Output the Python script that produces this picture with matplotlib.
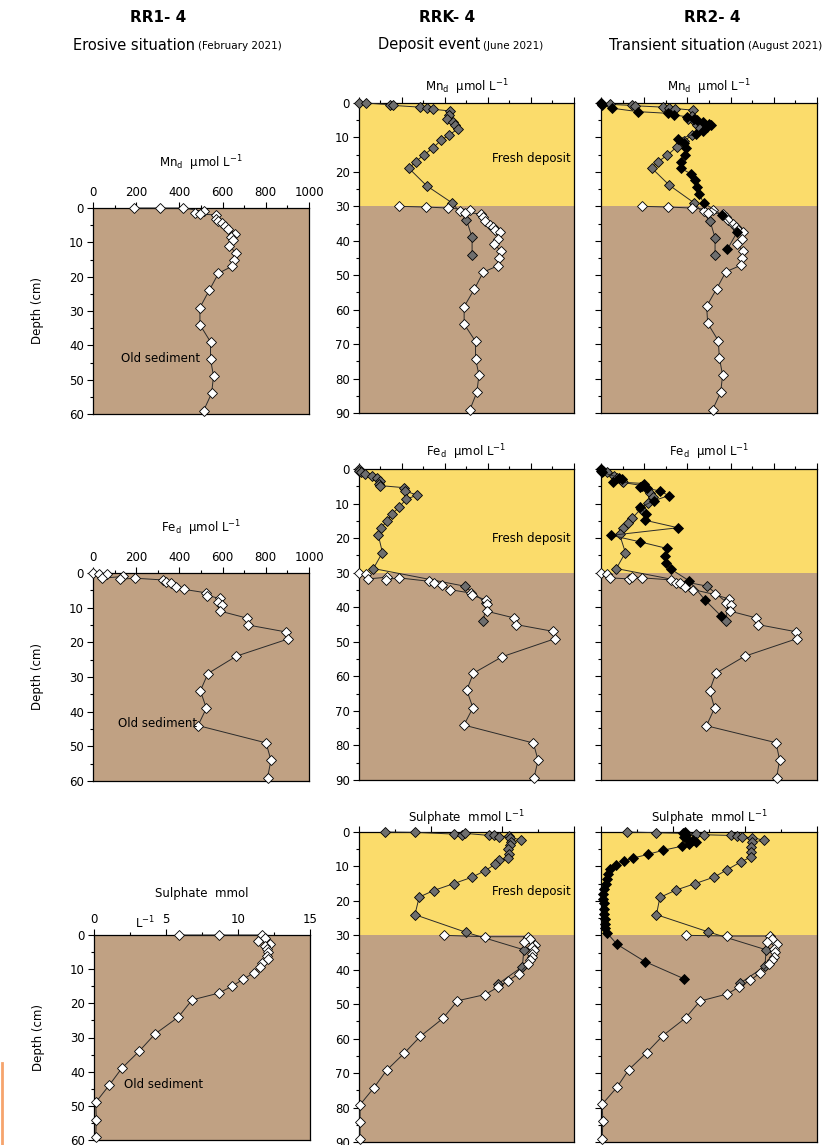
import numpy as np
import matplotlib
matplotlib.use("Agg")
import matplotlib.pyplot as plt
from matplotlib.lines import Line2D

# ---------------- data (depth in cm, concentrations) ----------------
# RR1-4 (erosive, old sediment only)
rr1_mn_depth = [0, 0, 0, 1.0, 1.5, 1.8, 2.0, 3.2, 3.9, 4.5, 5.3, 6.1, 7.5, 8.5, 9.3, 11, 13, 15, 17, 19, 24, 29, 34, 39, 44, 49, 54, 59]
rr1_mn = [188, 310, 415, 516, 473, 496, 570, 570, 581, 597, 609, 625, 659, 637, 650, 628, 662, 653, 643, 581, 538, 495, 495, 544, 544, 558, 549, 512]

rr1_fe_depth = [0, 0.2, 0.3, 1.5, 1.0, 1.8, 1.5, 2.0, 2.5, 3.0, 4.0, 4.7, 5.7, 6.5, 7.3, 8.3, 9.3, 11, 13, 15, 17, 19, 24, 29, 34, 39, 44, 49, 54, 59]
rr1_fe = [0, 30, 65, 40, 140, 125, 195, 322, 340, 363, 383, 420, 521, 528, 586, 578, 598, 589, 712, 718, 893, 905, 663, 532, 497, 525, 486, 801, 824, 808]

rr1_so4_depth = [0, 0, 0, 0.8, 1.7, 2.5, 3.3, 4.0, 5.0, 6.0, 7.0, 8.1, 9.5, 11, 13, 15, 17, 19, 24, 29, 34, 39, 44, 49, 54, 59]
rr1_so4 = [5.9, 8.7, 11.7, 11.9, 11.4, 12.2, 11.9, 12.0, 12.1, 12.0, 12.05, 11.7, 11.5, 11.1, 10.35, 9.58, 8.67, 6.81, 5.86, 4.23, 3.14, 1.93, 1.05, 0.12, 0.16, 0.12]

# RRK-4 (deposit event): fresh deposit (grey) + old sediment (white)
rrk_mn_grey_depth = [0, 0, 0.5, 0.7, 1.2, 1.5, 1.8, 2.3, 3.5, 4.5, 5.5, 6.5, 7.5, 9.3, 10.8, 13, 15, 17, 19, 24, 29, 34, 39, 44]
rrk_mn_grey = [0, 34, 143, 158, 283, 317, 342, 422, 419, 407, 438, 447, 460, 419, 382, 345, 303, 264, 233, 314, 433, 500, 526, 526]
rrk_mn_white_depth = [30, 30.2, 30.5, 31.0, 31.5, 31.8, 32.2, 33.2, 34.3, 35.3, 36.1, 37.0, 37.5, 39.4, 40.9, 43, 45, 47.2, 49.1, 54.1, 59.1, 64.2, 69.2, 74.2, 79, 84, 89]
rrk_mn_white = [186, 311, 415, 516, 469, 495, 568, 578, 587, 608, 624, 632, 655, 648, 627, 661, 652, 648, 578, 536, 489, 489, 542, 542, 558, 548, 516]

rrk_fe_grey_depth = [0, 0.5, 1.0, 1.5, 2.1, 2.7, 3.5, 4.4, 4.8, 5.4, 6.3, 7.6, 8.7, 11.1, 13.1, 15, 17.1, 19.2, 24.2, 28.8, 33.9, 38.8, 44.1]
rrk_fe_grey = [0, 0, 8, 28, 62, 85, 98, 93, 98, 209, 214, 271, 220, 186, 152, 132, 101, 90, 109, 67, 491, 592, 578]
rrk_fe_white_depth = [30, 30.5, 31.8, 31.3, 32.0, 31.5, 32.5, 33.0, 33.7, 34.9, 35.9, 36.6, 37.8, 39.2, 41.2, 43.1, 45, 47, 49.1, 54.3, 59.1, 64, 69.1, 74.1, 79.3, 84.3, 89.3]
rrk_fe_white = [0, 31, 43, 132, 124, 186, 326, 349, 388, 423, 519, 527, 589, 597, 597, 721, 729, 904, 912, 667, 532, 501, 530, 488, 811, 833, 814]

rrk_so4_grey_depth = [0, 0.1, 0.6, 0.9, 0.4, 1.0, 1.0, 1.4, 1.1, 1.7, 2.2, 3.0, 3.8, 4.8, 6.3, 7.6, 8.2, 9.4, 11.2, 13.1, 15, 17, 18.9, 24, 29.1, 34.2, 39.1, 44.1]
rrk_so4_grey = [1.8, 3.9, 6.6, 7.2, 7.4, 9.1, 9.4, 9.8, 10.5, 10.55, 11.3, 10.6, 10.55, 10.4, 10.5, 10.4, 9.8, 9.5, 8.8, 7.9, 6.6, 5.2, 4.2, 3.9, 7.45, 11.5, 11.4, 9.7]
rrk_so4_white_depth = [30, 30.4, 30.4, 31.0, 32.0, 32.7, 33.5, 34.4, 35.4, 36.4, 37.3, 38.3, 41.2, 43.2, 45.1, 47.2, 49, 54.1, 59.3, 64.2, 69.2, 74.2, 79.2, 84.2, 89.2]
rrk_so4_white = [5.93, 8.79, 11.8, 11.9, 11.5, 12.3, 12.07, 12.2, 12.07, 12.07, 11.95, 11.8, 11.13, 10.4, 9.68, 8.79, 6.87, 5.86, 4.29, 3.16, 1.92, 1.05, 0.07, 0.07, 0.07]

# RR2-4 (transient): grey + white as above, black = new profile
rr2_mn_grey_depth = [0, 0.4, 0.7, 0.8, 1.2, 1.5, 1.6, 2.1, 3.7, 4.6, 5.5, 6.4, 7.4, 9.4, 11, 12.8, 15.2, 17, 18.9, 23.9, 29, 34.3, 39.1, 44]
rr2_mn_grey = [0, 43, 143, 158, 285, 317, 343, 428, 420, 405, 435, 445, 458, 420, 385, 350, 306, 265, 235, 317, 431, 505, 528, 528]
rr2_mn_white_depth = [30, 30.2, 30.5, 31.0, 31.5, 31.8, 32.2, 33.0, 34.0, 35.0, 36.0, 37.0, 37.5, 39.4, 41, 43, 45, 47.1, 49, 54, 59, 64, 69, 74, 79, 84, 89]
rr2_mn_white = [189, 312, 420, 520, 477, 497, 565, 580, 590, 610, 625, 635, 658, 651, 630, 658, 654, 648, 578, 535, 489, 494, 543, 548, 563, 554, 517]
rr2_mn_black_depth = [0, 0.5, 1.5, 2.5, 3.0, 3.5, 4.0, 4.5, 5.0, 5.5, 6.0, 6.5, 7.0, 8.0, 9.0, 10.5, 11.5, 13, 15, 17, 19, 20.5, 22.5, 24.5, 26.5, 29, 32.5, 37.5, 42.5]
rr2_mn_black = [0, 5, 50, 170, 310, 340, 400, 430, 445, 470, 500, 510, 490, 470, 440, 355, 385, 395, 390, 370, 370, 415, 435, 445, 455, 475, 560, 630, 585]

rr2_fe_grey_depth = [0, 0.5, 1.0, 1.9, 2.5, 3.4, 3.9, 4.8, 5.8, 7.0, 8.2, 9.7, 11.5, 14.3, 15.7, 17.2, 18.9, 24.2, 28.8, 33.9, 38.8, 44]
rr2_fe_grey = [0, 10, 30, 59, 75, 97, 102, 190, 213, 225, 239, 218, 185, 144, 125, 102, 86, 113, 71, 491, 585, 580]
rr2_fe_white_depth = [30, 30.5, 31.5, 31.8, 31.2, 31.5, 32.1, 32.9, 33.1, 34.1, 34.9, 36.3, 37.6, 38.7, 39.5, 41.1, 43.1, 45, 47.1, 49.1, 54.2, 59.1, 64.1, 69.2, 74.3, 79.2, 84.2, 89.3]
rr2_fe_white = [0, 28, 43, 128, 143, 190, 326, 347, 364, 390, 426, 526, 591, 579, 603, 596, 719, 725, 903, 907, 665, 532, 503, 526, 488, 810, 827, 813]
rr2_fe_black_depth = [0, 0.5, 1.0, 2.5, 3.0, 3.7, 4.2, 5.2, 5.6, 6.4, 7.7, 9.2, 11.1, 13.1, 14.8, 17.0, 19.2, 21.1, 23.0, 25.2, 27.1, 29.0, 32.4, 37.8, 42.6]
rr2_fe_black = [0, 2, 5, 85, 95, 55, 200, 180, 215, 275, 313, 244, 182, 210, 202, 356, 48, 182, 306, 298, 301, 324, 409, 480, 557]

rr2_so4_grey_depth = [0, 0.2, 0.5, 0.8, 1.0, 1.2, 1.5, 1.6, 2.4, 2.9, 4.4, 5.8, 7.3, 8.7, 10.9, 13.1, 15, 16.9, 19, 24, 29, 34.2, 39, 43.9]
rr2_so4_grey = [1.8, 3.85, 6.57, 7.15, 9.05, 9.43, 9.82, 10.5, 11.3, 10.5, 10.45, 10.4, 10.4, 9.7, 8.78, 7.85, 6.52, 5.18, 4.09, 3.85, 7.45, 11.47, 11.38, 9.66]
rr2_so4_white_depth = [30, 30.2, 30.2, 31.0, 31.9, 32.6, 33.9, 34.8, 36.3, 37.3, 38.4, 40.9, 43.1, 45, 47, 49.1, 54, 59.1, 64.1, 69, 74.1, 79.1, 84, 89.1]
rr2_so4_white = [5.92, 8.78, 11.75, 11.9, 11.5, 12.2, 12.03, 12.1, 12.03, 11.9, 11.68, 11.05, 10.36, 9.59, 8.78, 6.87, 5.87, 4.3, 3.16, 1.93, 1.11, 0.07, 0.14, 0.07]
rr2_so4_black_depth = [0, 0.4, 0.9, 1.4, 1.9, 2.4, 2.9, 3.4, 4.1, 5.3, 6.5, 7.6, 8.4, 9.5, 10.8, 12.3, 13.6, 15, 16.5, 17.9, 19.4, 20.6, 22.3, 23.9, 25.2, 26.6, 27.9, 29.3, 32.6, 37.6, 42.6]
rr2_so4_black = [5.8, 5.7, 5.9, 5.75, 6.0, 6.4, 6.6, 6.1, 5.64, 4.32, 3.25, 2.21, 1.58, 1.07, 0.6, 0.46, 0.42, 0.35, 0.23, 0.14, 0.12, 0.19, 0.19, 0.23, 0.3, 0.3, 0.3, 0.42, 1.11, 3.04, 5.76]

site_titles = ["RR1- 4", "RRK- 4", "RR2- 4"]
site_main = ["Erosive situation", "Deposit event", "Transient situation"]
site_dates = ["(February 2021)", "(June 2021)", "(August 2021)"]

# ---------------- styling ----------------
TAN = "#C0A183"
YELLOW = "#FBDC6B"
GREY = "#6E6E6E"
W, H = 837, 1145

fig = plt.figure(figsize=(W / 100, H / 100), dpi=100)


def pos(left, top, width, height):
    return [left / W, 1 - (top + height) / H, width / W, height / H]


def setup(ax, xmax, xmaj, xmin, ymax, xlabels, ylabels):
    ax.set_xlim(0, xmax)
    ax.set_ylim(ymax, 0)
    ax.xaxis.tick_top()
    ax.set_xticks(np.arange(0, xmax + 1e-9, xmaj))
    ax.set_xticks(np.arange(0, xmax + 1e-9, xmin), minor=True)
    ax.set_yticks(np.arange(0, ymax + 1, 10))
    ax.set_yticks(np.arange(0, ymax + 1, 5), minor=True)
    ax.tick_params(which="both", direction="out", top=True, bottom=False,
                   left=True, right=False, width=0.8, colors="black")
    ax.tick_params(which="major", length=4.5, labelsize=8.5, pad=2)
    ax.tick_params(which="minor", length=2.5)
    ax.tick_params(labeltop=xlabels, labelleft=ylabels)
    for s in ax.spines.values():
        s.set_linewidth(0.9)
    if ymax == 60:
        ax.set_facecolor(TAN)
    else:
        ax.axhspan(0, 30, color=YELLOW, zorder=0, lw=0)
        ax.axhspan(30, 90, color=TAN, zorder=0, lw=0)


def profile(ax, x, d, fill):
    ax.plot(x, d, color="#2a2a2a", lw=0.7, marker="D", ms=5.2, mfc=fill,
            mec="black", mew=0.6, zorder=3, clip_on=False)


def top_label(ax, text, dy, xfrac=0.5):
    ax.annotate(text, (xfrac, 1), xycoords="axes fraction", xytext=(0, dy),
                textcoords="offset points", ha="center", va="bottom", fontsize=8.5)


mn_lab = r"Mn$_{\rm d}$  µmol L$^{-1}$"
fe_lab = r"Fe$_{\rm d}$  µmol L$^{-1}$"
so4_lab = r"Sulphate  mmol L$^{-1}$"

# ----- column 1 : RR1-4 -----
ax = fig.add_axes(pos(93, 208, 216, 206))
setup(ax, 1000, 200, 100, 60, True, True)
profile(ax, rr1_mn, rr1_mn_depth, "white")
top_label(ax, mn_lab, 25)
ax.text(130, 43.7, "Old sediment", fontsize=8.5, va="center")
ax.set_ylabel("Depth (cm)", fontsize=8.5, labelpad=18)

ax = fig.add_axes(pos(93, 573, 216, 208))
setup(ax, 1000, 200, 100, 60, True, True)
profile(ax, rr1_fe, rr1_fe_depth, "white")
top_label(ax, fe_lab, 25)
ax.text(116, 43.5, "Old sediment", fontsize=8.5, va="center")
ax.set_ylabel("Depth (cm)", fontsize=8.5, labelpad=18)

ax = fig.add_axes(pos(94, 935, 216, 205))
setup(ax, 15, 5, 2.5, 60, True, True)
profile(ax, rr1_so4, rr1_so4_depth, "white")
top_label(ax, "Sulphate  mmol", 25)
ax.annotate(r"L$^{-1}$", (0.235, 1), xycoords="axes fraction", xytext=(0, 3),
            textcoords="offset points", ha="center", va="bottom", fontsize=8.5)
ax.text(2.1, 43.9, "Old sediment", fontsize=8.5, va="center")
ax.set_ylabel("Depth (cm)", fontsize=8.5, labelpad=18)

# ----- columns 2 and 3 -----
rows_top = [103, 469, 832]
rows_h = [310, 311, 310]
for c, left, width, show_y in [(1, 359, 215, True), (2, 601, 216, False)]:
    axm = fig.add_axes(pos(left, rows_top[0], width, rows_h[0]))
    axf = fig.add_axes(pos(left, rows_top[1], width, rows_h[1]))
    axs = fig.add_axes(pos(left, rows_top[2], width, rows_h[2]))
    setup(axm, 1000, 200, 100, 90, False, show_y)
    setup(axf, 1000, 200, 100, 90, False, show_y)
    setup(axs, 15, 5, 2.5, 90, False, show_y)
    top_label(axm, mn_lab, 4)
    top_label(axf, fe_lab, 5)
    top_label(axs, so4_lab, 3)
    if c == 1:
        profile(axm, rrk_mn_grey, rrk_mn_grey_depth, GREY)
        profile(axm, rrk_mn_white, rrk_mn_white_depth, "white")
        profile(axf, rrk_fe_grey, rrk_fe_grey_depth, GREY)
        profile(axf, rrk_fe_white, rrk_fe_white_depth, "white")
        profile(axs, rrk_so4_grey, rrk_so4_grey_depth, GREY)
        profile(axs, rrk_so4_white, rrk_so4_white_depth, "white")
        axm.text(985, 16, "Fresh deposit", fontsize=8.5, ha="right", va="center")
        axf.text(985, 20, "Fresh deposit", fontsize=8.5, ha="right", va="center")
        axs.text(14.8, 17.4, "Fresh deposit", fontsize=8.5, ha="right", va="center")
    else:
        profile(axm, rr2_mn_grey, rr2_mn_grey_depth, GREY)
        profile(axm, rr2_mn_white, rr2_mn_white_depth, "white")
        profile(axm, rr2_mn_black, rr2_mn_black_depth, "black")
        profile(axf, rr2_fe_grey, rr2_fe_grey_depth, GREY)
        profile(axf, rr2_fe_white, rr2_fe_white_depth, "white")
        profile(axf, rr2_fe_black, rr2_fe_black_depth, "black")
        profile(axs, rr2_so4_grey, rr2_so4_grey_depth, GREY)
        profile(axs, rr2_so4_white, rr2_so4_white_depth, "white")
        profile(axs, rr2_so4_black, rr2_so4_black_depth, "black")

# ----- column headers -----
centers = [158, 447, 712]
main_right = [195, 480, 745]
for i in range(3):
    fig.text(centers[i] / W, 1 - 18 / H, site_titles[i], ha="center", va="center",
             fontsize=11, fontweight="bold")
    fig.text(main_right[i] / W, 1 - 45 / H, site_main[i], ha="right", va="center",
             fontsize=10.5)
    fig.text((main_right[i] + 3) / W, 1 - 46 / H, site_dates[i], ha="left", va="center",
             fontsize=7.5)

# small orange mark at the left edge of the source image
fig.add_artist(Line2D([2 / W, 2 / W], [0, 1 - 1063 / H], color="#F6A46C", lw=2))

fig.savefig("out.png", dpi=100)
